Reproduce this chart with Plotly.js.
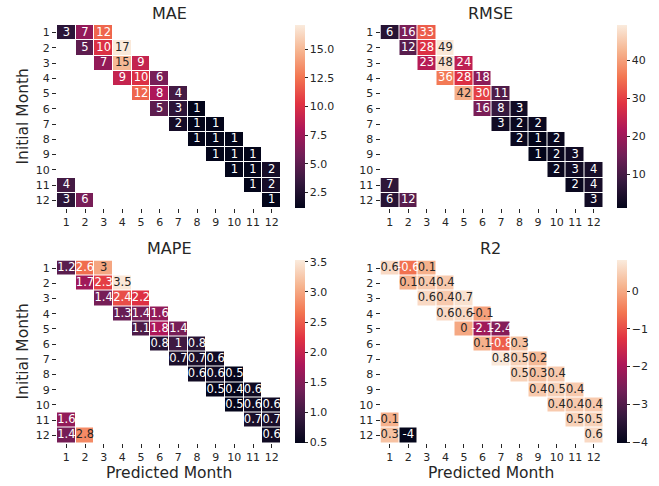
<!DOCTYPE html>
<html>
<head>
<meta charset="utf-8">
<script src="https://cdn.plot.ly/plotly-3.0.1.min.js"></script>
<style>html,body{margin:0;padding:0;background:#fff;}#chart{width:659px;height:486px;}</style>
</head>
<body>
<div id="chart"></div>
<script>
const n = null;
const months = [1,2,3,4,5,6,7,8,9,10,11,12];
const tickLabels = ["1","2","3","4","5","6","7","8","9","10","11","12"];
const metricNames = ["MAE","RMSE","MAPE","R2"];

const maeVals = [
  [3,7,12,n,n,n,n,n,n,n,n,n],
  [n,5,10,17,n,n,n,n,n,n,n,n],
  [n,n,7,15,9,n,n,n,n,n,n,n],
  [n,n,n,9,10,6,n,n,n,n,n,n],
  [n,n,n,n,12,8,4,n,n,n,n,n],
  [n,n,n,n,n,5,3,1,n,n,n,n],
  [n,n,n,n,n,n,2,1,1,n,n,n],
  [n,n,n,n,n,n,n,1,1,1,n,n],
  [n,n,n,n,n,n,n,n,1,1,1,n],
  [n,n,n,n,n,n,n,n,n,1,1,2],
  [4,n,n,n,n,n,n,n,n,n,1,2],
  [3,6,n,n,n,n,n,n,n,n,n,1]
];
const rmseVals = [
  [6,16,33,n,n,n,n,n,n,n,n,n],
  [n,12,28,49,n,n,n,n,n,n,n,n],
  [n,n,23,48,24,n,n,n,n,n,n,n],
  [n,n,n,36,28,18,n,n,n,n,n,n],
  [n,n,n,n,42,30,11,n,n,n,n,n],
  [n,n,n,n,n,16,8,3,n,n,n,n],
  [n,n,n,n,n,n,3,2,2,n,n,n],
  [n,n,n,n,n,n,n,2,1,2,n,n],
  [n,n,n,n,n,n,n,n,1,2,3,n],
  [n,n,n,n,n,n,n,n,n,2,3,4],
  [7,n,n,n,n,n,n,n,n,n,2,4],
  [6,12,n,n,n,n,n,n,n,n,n,3]
];
const mapeVals = [
  [1.2,2.6,3,n,n,n,n,n,n,n,n,n],
  [n,1.7,2.3,3.5,n,n,n,n,n,n,n,n],
  [n,n,1.4,2.4,2.2,n,n,n,n,n,n,n],
  [n,n,n,1.3,1.4,1.6,n,n,n,n,n,n],
  [n,n,n,n,1.1,1.8,1.4,n,n,n,n,n],
  [n,n,n,n,n,0.8,1,0.8,n,n,n,n],
  [n,n,n,n,n,n,0.7,0.7,0.6,n,n,n],
  [n,n,n,n,n,n,n,0.6,0.6,0.5,n,n],
  [n,n,n,n,n,n,n,n,0.5,0.4,0.6,n],
  [n,n,n,n,n,n,n,n,n,0.5,0.6,0.6],
  [1.6,n,n,n,n,n,n,n,n,n,0.7,0.7],
  [1.4,2.8,n,n,n,n,n,n,n,n,n,0.6]
];
const r2Vals = [
  [0.6,-0.6,0.1,n,n,n,n,n,n,n,n,n],
  [n,0.1,0.4,0.4,n,n,n,n,n,n,n,n],
  [n,n,0.6,0.4,0.7,n,n,n,n,n,n,n],
  [n,n,n,0.6,0.6,-0.1,n,n,n,n,n,n],
  [n,n,n,n,0,-2.1,-2.4,n,n,n,n,n],
  [n,n,n,n,n,0.1,-0.8,0.3,n,n,n,n],
  [n,n,n,n,n,n,0.8,0.5,0.2,n,n,n],
  [n,n,n,n,n,n,n,0.5,0.3,0.4,n,n],
  [n,n,n,n,n,n,n,n,0.4,0.5,0.4,n],
  [n,n,n,n,n,n,n,n,n,0.4,0.4,0.4],
  [0.1,n,n,n,n,n,n,n,n,n,0.5,0.5],
  [0.3,-4,n,n,n,n,n,n,n,n,n,0.6]
];

// colour bar limits as drawn in the reference
const maeRange = [1.13, 17.1];
const rmseRange = [1.03, 49.4];
const mapeRange = [0.49, 3.53];
const r2Range = [-4.02, 0.82];
const maeTicks = [2.5,5,7.5,10,12.5,15];
const rmseTicks = [10,20,30,40];
const mapeTicks = [0.5,1,1.5,2,2.5,3,3.5];
const r2Ticks = [-4,-3,-2,-1,0];

// seaborn "rocket" approximation
const rocket = [
  [0, '#03051a'],
  [1/7, '#35193e'],
  [2/7, '#701f57'],
  [3/7, '#ad1759'],
  [4/7, '#e13342'],
  [5/7, '#f37651'],
  [6/7, '#f6b48f'],
  [1, '#faebdd']
];
function hex2rgb(h){return [parseInt(h.slice(1,3),16),parseInt(h.slice(3,5),16),parseInt(h.slice(5,7),16)];}
function colorAt(t){
  t = Math.max(0, Math.min(1, t));
  for (let i=0;i<rocket.length-1;i++){
    const a=rocket[i], b=rocket[i+1];
    if (t<=b[0]){
      const f=(t-a[0])/(b[0]-a[0]);
      const ca=hex2rgb(a[1]), cb=hex2rgb(b[1]);
      return ca.map((v,k)=>v+(cb[k]-v)*f);
    }
  }
  return hex2rgb(rocket[rocket.length-1][1]);
}
function lum(c){
  const l = c.map(v=>{v/=255;return v<=0.03928? v/12.92 : Math.pow((v+0.055)/1.055,2.4);});
  return 0.2126*l[0]+0.7152*l[1]+0.0722*l[2];
}

const font = 'DejaVu Sans, Verdana, sans-serif';
const txtCol = '#262626';

const panels = [
  {vals: maeVals, range: maeRange, ticks: maeTicks, fmt: '.1f', xa:'x', ya:'y', cbx: 295/659, cby: 1-116.5/486},
  {vals: rmseVals, range: rmseRange, ticks: rmseTicks, fmt: 'd', xa:'x2', ya:'y2', cbx: 617/659, cby: 1-116.5/486},
  {vals: mapeVals, range: mapeRange, ticks: mapeTicks, fmt: '.1f', xa:'x3', ya:'y3', cbx: 295/659, cby: 1-351.5/486},
  {vals: r2Vals, range: r2Range, ticks: r2Ticks, fmt: 'd', xa:'x4', ya:'y4', cbx: 617/659, cby: 1-351.5/486}
];

const data = [];
panels.forEach((p, i) => {
  data.push({
    type: 'heatmap',
    x: months, y: months, z: p.vals,
    zmin: p.range[0], zmax: p.range[1],
    colorscale: rocket,
    xgap: 1, ygap: 1,
    xaxis: p.xa, yaxis: p.ya,
    hoverinfo: 'skip',
    colorbar: {
      x: p.cbx, xanchor: 'left', xpad: 0,
      y: p.cby, yanchor: 'middle', ypad: 0,
      len: 183/486, lenmode: 'fraction',
      thickness: 10, outlinewidth: 0,
      ticks: 'outside', ticklen: 3, tickwidth: 1, tickcolor: txtCol,
      tickvals: p.ticks, tickformat: p.fmt,
      tickfont: {family: font, size: 11, color: txtCol}
    }
  });
  const xs=[], ys=[], ts=[], cs=[];
  p.vals.forEach((row, r) => row.forEach((v, c) => {
    if (v === null) return;
    xs.push(months[c]); ys.push(months[r]); ts.push(String(v));
    const t = (v - p.range[0])/(p.range[1]-p.range[0]);
    cs.push(lum(colorAt(t)) > 0.35 ? txtCol : '#ffffff');
  }));
  data.push({
    type: 'scatter', mode: 'text',
    x: xs, y: ys, text: ts,
    textposition: 'middle center',
    textfont: {family: font, size: 11.5, color: cs},
    xaxis: p.xa, yaxis: p.ya,
    hoverinfo: 'skip', showlegend: false, cliponaxis: false
  });
});

const colX = [[57/659, 281/659],[380.5/659, 603/659]];
const rowY = [[1-208/486, 1-25/486],[1-443/486, 1-260.5/486]];

function xax(dom, anchor){
  return {domain: dom, anchor: anchor, range: [0.5, 12.5], tickvals: months, ticktext: tickLabels,
    ticks: 'outside', ticklen: 4, tickwidth: 1, tickcolor: txtCol, showgrid: false, zeroline: false,
    showline: false, fixedrange: true, tickfont: {family: font, size: 11, color: txtCol}, tickangle: 0};
}
function yax(dom, anchor){
  return {domain: dom, anchor: anchor, range: [12.5, 0.5], tickvals: months, ticktext: tickLabels,
    ticks: 'outside', ticklen: 4, tickwidth: 1, tickcolor: txtCol, showgrid: false, zeroline: false,
    showline: false, fixedrange: true, tickfont: {family: font, size: 11, color: txtCol}};
}

const ann = [];
const titlePos = [[169, 14],[491, 14],[169, 248],[491, 248]];
metricNames.forEach((name, i) => {
  ann.push({text: name, xref: 'paper', yref: 'paper', x: titlePos[i][0]/659, y: 1-titlePos[i][1]/486,
    xanchor: 'center', yanchor: 'middle', showarrow: false, font: {family: font, size: 16, color: txtCol}});
});
ann.push({text: 'Initial Month', xref: 'paper', yref: 'paper', x: 22/659, y: 1-116.5/486, textangle: -90,
  xanchor: 'center', yanchor: 'middle', showarrow: false, font: {family: font, size: 15.5, color: txtCol}});
ann.push({text: 'Initial Month', xref: 'paper', yref: 'paper', x: 22/659, y: 1-351.5/486, textangle: -90,
  xanchor: 'center', yanchor: 'middle', showarrow: false, font: {family: font, size: 15.5, color: txtCol}});
ann.push({text: 'Predicted Month', xref: 'paper', yref: 'paper', x: 169/659, y: 1-473/486,
  xanchor: 'center', yanchor: 'middle', showarrow: false, font: {family: font, size: 15.5, color: txtCol}});
ann.push({text: 'Predicted Month', xref: 'paper', yref: 'paper', x: 491/659, y: 1-473/486,
  xanchor: 'center', yanchor: 'middle', showarrow: false, font: {family: font, size: 15.5, color: txtCol}});

const layout = {
  width: 659, height: 486,
  margin: {l: 0, r: 0, t: 0, b: 0},
  paper_bgcolor: '#ffffff', plot_bgcolor: '#ffffff',
  showlegend: false,
  xaxis: xax(colX[0], 'y'), yaxis: yax(rowY[0], 'x'),
  xaxis2: xax(colX[1], 'y2'), yaxis2: yax(rowY[0], 'x2'),
  xaxis3: xax(colX[0], 'y3'), yaxis3: yax(rowY[1], 'x3'),
  xaxis4: xax(colX[1], 'y4'), yaxis4: yax(rowY[1], 'x4'),
  annotations: ann
};

Plotly.newPlot('chart', data, layout, {staticPlot: true, displayModeBar: false});
</script>
</body>
</html>
